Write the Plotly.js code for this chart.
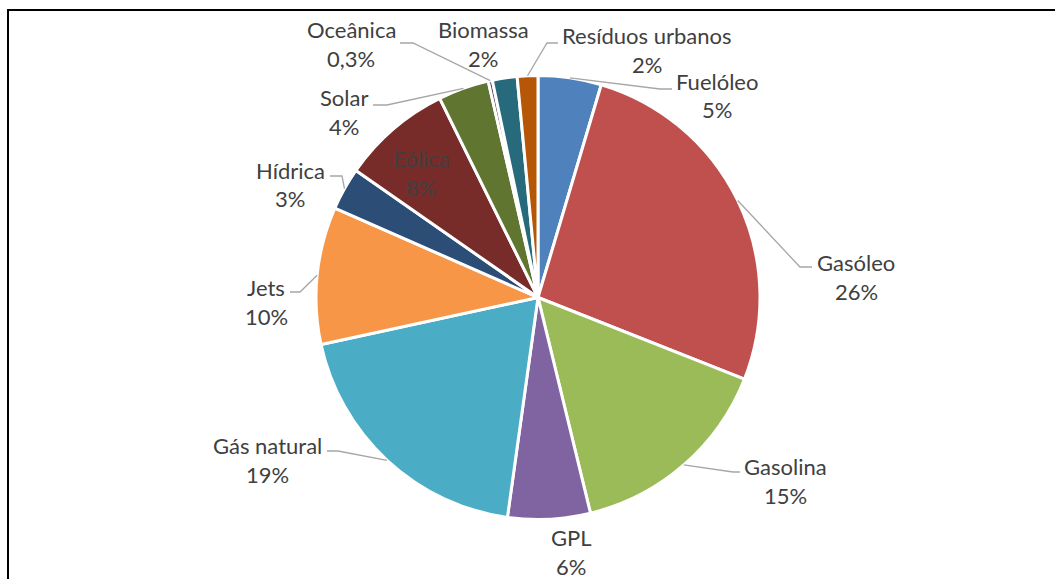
<!DOCTYPE html>
<html>
<head>
<meta charset="utf-8">
<script src="https://cdn.plot.ly/plotly-3.0.1.min.js"></script>
<style>
html,body{margin:0;padding:0;background:#fff;}
#chart{width:1055px;height:579px;}
</style>
</head>
<body>
<div id="chart"></div>
<script>
// ---- data ----
const labels = ['Fuelóleo','Gasóleo','Gasolina','GPL','Gás natural','Jets','Hídrica','Eólica','Solar','Oceânica','Biomassa','Resíduos urbanos'];
const values = [4.6, 26.4, 15.2, 6.0, 19.4, 10.0, 3.1, 8.0, 3.7, 0.3, 1.8, 1.5];
const colors = ['#4F81BD','#C0504D','#9BBB59','#8064A2','#4BACC6','#F79646','#2C4D75','#772C2A','#5F7530','#4D3B62','#276A7C','#B65708'];

// ---- layout (pixels) ----
const W = 1055, H = 579;
const CX = 538, CY = 297.5, R = 222;
// label centre (name line); percent line sits LINE px lower
const labelPos = [[717,81],[856,262],[785,466],[571,537],[267,445],[266,287],[290,170],[421,158],[344,98],[351,30],[483,30],[647,35]];
const LINE = 29;
// leader line elbow / end points (null = no leader)
const leaders = [
  [[660,89],[672,89]],
  [[800,267],[812,267]],
  [[733,472],[740,472]],
  null,
  [[338,451],[327,451]],
  [[300,292],[290,292]],
  [[342,176],[330,176]],
  null,
  [[387,105],[373,105]],
  [[413,43],[400,43]],
  null,
  [[547,43],[558,43]]
];
const insideLabel = [false,false,false,false,false,false,false,true,false,false,false,false];

const px = x => x / W;
const py = y => 1 - y / H;

const total = values.reduce((a,b)=>a+b,0);
function pctText(v){
  const p = v/total*100;
  if (p < 1) return p.toFixed(1).replace('.', ',') + '%';
  return Math.round(p) + '%';
}

const FONT = 'Lato, "Open Sans", "Noto Sans", sans-serif';
const annotations = [];
const shapes = [];
let cum = 0;
values.forEach((v,i)=>{
  const mid = (cum + v/2)/total * 2*Math.PI;
  cum += v;
  const ax = CX + R*Math.sin(mid), ay = CY - R*Math.cos(mid);
  const [lx,ly] = labelPos[i];
  const f = {family: FONT, size: 22, color: '#404040'};
  annotations.push({xref:'paper',yref:'paper',x:px(lx),y:py(ly),text:labels[i],showarrow:false,xanchor:'center',yanchor:'middle',font:f});
  annotations.push({xref:'paper',yref:'paper',x:px(lx),y:py(ly+LINE),text:pctText(v),showarrow:false,xanchor:'center',yanchor:'middle',font:f});
  if (leaders[i]) {
    const pts = [[ax,ay]].concat(leaders[i]);
    const d = pts.map((p,k)=>(k? 'L':'M') + px(p[0]).toFixed(5) + ',' + py(p[1]).toFixed(5)).join(' ');
    shapes.push({type:'path',xref:'paper',yref:'paper',path:d,line:{color:'#A6A6A6',width:1.3}});
  }
});
// chart frame
shapes.push({type:'rect',xref:'paper',yref:'paper',x0:px(8),y0:py(10),x1:1.05,y1:-0.05,line:{color:'#000',width:2},fillcolor:'rgba(0,0,0,0)'});

const trace = {
  type:'pie',
  labels: labels,
  values: values,
  sort:false,
  direction:'clockwise',
  rotation:0,
  textinfo:'none',
  hoverinfo:'none',
  marker:{colors:colors, line:{color:'#FFFFFF', width:3}},
  domain:{x:[px(CX-R), px(CX+R)], y:[py(CY+R), py(CY-R)]},
  showlegend:false
};

Plotly.newPlot('chart',[trace],{
  width:W, height:H,
  margin:{l:0,r:0,t:0,b:0},
  paper_bgcolor:'#fff',
  showlegend:false,
  annotations:annotations,
  shapes:shapes
},{staticPlot:true});
</script>
</body>
</html>
